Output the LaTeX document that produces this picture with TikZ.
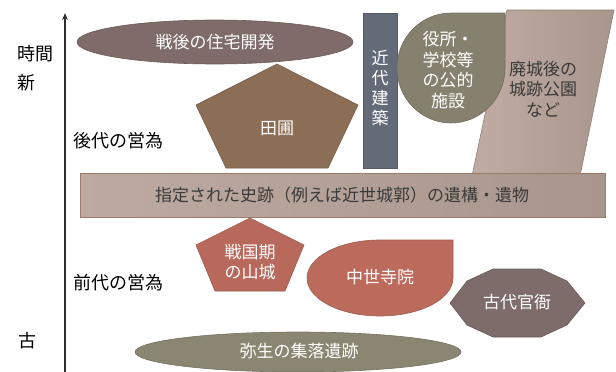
\documentclass[tikz,border=0pt]{standalone}
\usepackage{fontspec}
\setmainfont{Noto Sans CJK JP}
\usetikzlibrary{arrows.meta}
\definecolor{cEllTop}{HTML}{7E6B6A}
\definecolor{cTanbo}{HTML}{8B6E55}
\definecolor{cKindai}{HTML}{646B78}
\definecolor{cYakusho}{HTML}{86806F}
\definecolor{cParaL}{HTML}{C0ACA2}
\definecolor{cParaR}{HTML}{A8958B}
\definecolor{cRectL}{HTML}{BDABA1}
\definecolor{cRectR}{HTML}{A8968C}
\definecolor{cRectB}{HTML}{9A7B67}
\definecolor{cSengoku}{HTML}{B8695B}
\definecolor{cChusei}{HTML}{BB6A5C}
\definecolor{cKodai}{HTML}{7E6C6B}
\definecolor{cYayoi}{HTML}{8A8672}
\definecolor{cTxt}{HTML}{3A3A3A}
\definecolor{cAxis}{HTML}{2E2E2E}
\tikzset{
  shp/.style={line width=0.6pt},
  wtxt/.style={text=white, font=\fontsize{17}{20.5}\selectfont, align=center, inner sep=0pt},
  dtxt/.style={text=cTxt, font=\fontsize{17}{20.5}\selectfont, align=center, inner sep=0pt},
  lbl/.style={text=black, font=\fontsize{18}{20}\selectfont, inner sep=0pt},
  axisline/.style={draw=cAxis, line width=1.4pt, -{Stealth[length=7pt,width=5.5pt]}}
}
\begin{document}
\begin{tikzpicture}[x=1pt,y=-1pt]
\useasboundingbox[fill=white] (0,0) rectangle (616,372);

% axis
\coordinate (axb) at (65,374);
\coordinate (axt) at (65,13);
\draw[axisline] (axb) -- (axt);

% labels
\node[lbl] (jikan) at (35,54) {時間};
\node[lbl] (shin) at (26,83) {新};
\node[lbl] (kodai) at (118,141) {後代の営為};
\node[lbl] (zendai) at (118,283) {前代の営為};
\node[lbl] (ko) at (27,341) {古};

% parallelogram (behind rectangle)
\path[shp, draw=cParaR!85!black, left color=cParaL, right color=cParaR]
  (507,10) -- (614,10) -- (580,176) -- (472,176) -- cycle;
\node[dtxt] (haijo) at (543,89) {廃城後の\\城跡公園\\など};

% top ellipse
\path[shp, draw=cEllTop!85!black, fill=cEllTop] (215,42) ellipse[x radius=138, y radius=22];
\node[wtxt] (sengo) at (215,42) {戦後の住宅開発};

% pentagon tanbo
\path[shp, draw=cTanbo!85!black, fill=cTanbo]
  (277,64) -- (358,105) -- (328,168) -- (226,168) -- (196,105) -- cycle;
\node[wtxt] (tanbo) at (277,128) {田圃};

% kindai kenchiku
\path[shp, draw=cKindai!85!black, fill=cKindai] (363,13) rectangle (397,168);
\node[wtxt, font=\fontsize{17}{20}\selectfont] (kindai) at (380,88) {近\\代\\建\\築};

% yakusho teardrop
\path[shp, draw=cYakusho!85!black, fill=cYakusho]
  (505,13) -- (505,68) arc[start angle=0, end angle=270, x radius=54, y radius=55] -- cycle;
\node[wtxt] (yakusho) at (448,70) {役所・\\学校等\\の公的\\施設};

% big rectangle
\path[shp, draw=cRectB, left color=cRectL, right color=cRectR] (80,173) rectangle (605,217);
\node[dtxt] (shiseki) at (342,195) {指定された史跡（例えば近世城郭）の遺構・遺物};

% sengoku pentagon
\path[shp, draw=cSengoku!85!black, fill=cSengoku]
  (250,218) -- (304,245) -- (285,291) -- (215,291) -- (196,245) -- cycle;
\node[wtxt] (sengoku) at (250,262) {戦国期\\の山城};

% chusei teardrop
\path[shp, draw=cChusei!85!black, fill=cChusei]
  (453,240) -- (453,278) arc[start angle=0, end angle=270, x radius=73, y radius=38] -- cycle;
\node[wtxt] (chusei) at (380,277) {中世寺院};

% kodai decagon
\path[shp, draw=cKodai!85!black, fill=cKodai]
  (585,303) -- (567,281) -- (541,269) -- (493,269) -- (467,281) -- (450,303)
  -- (467,325) -- (493,337) -- (541,337) -- (567,325) -- cycle;
\node[wtxt] (kanga) at (517,302) {古代官衙};

% yayoi ellipse
\path[shp, draw=cYayoi!85!black, fill=cYayoi] (298,352) ellipse[x radius=163, y radius=20];
\node[wtxt] (yayoi) at (299,351) {弥生の集落遺跡};
\end{tikzpicture}
\end{document}
